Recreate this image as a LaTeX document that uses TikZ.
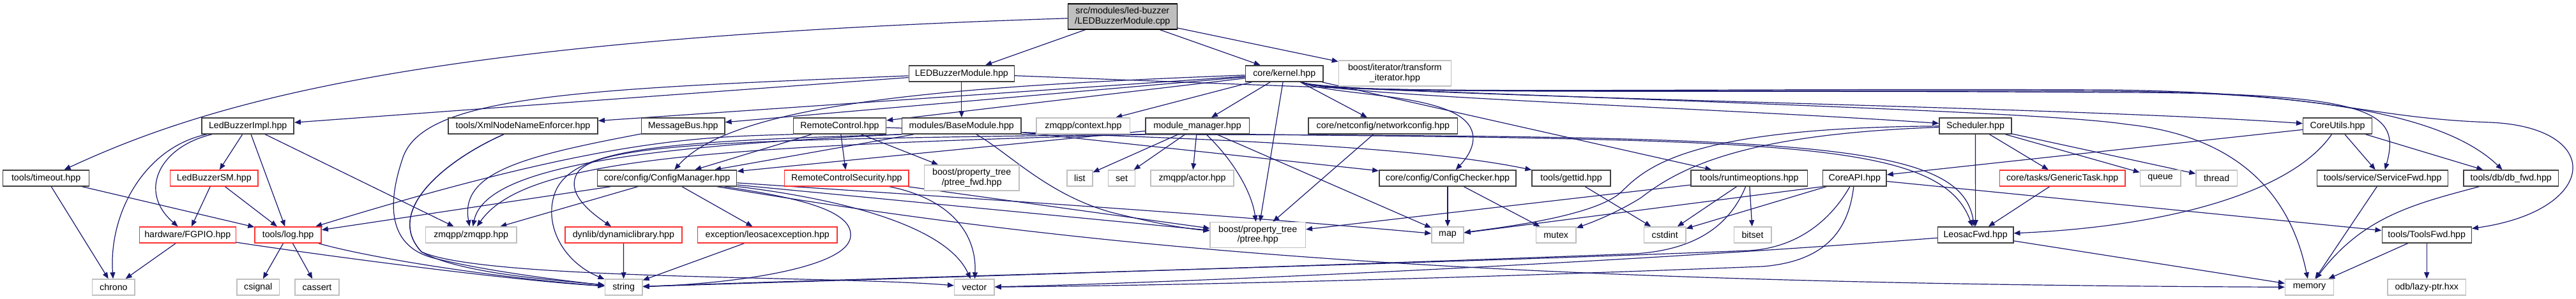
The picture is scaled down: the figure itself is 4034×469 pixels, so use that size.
\documentclass[tikz,border=0pt]{standalone}
\usepackage{fontspec}
\setmainfont{Liberation Sans}
\usetikzlibrary{arrows.meta}
\definecolor{edgec}{HTML}{191970}
\definecolor{bk}{HTML}{404040}
\definecolor{gr}{HTML}{BFBFBF}
\definecolor{rd}{HTML}{FF3030}
\newcommand\dxfont{\fontsize{7.1}{7.7}\selectfont}
\pgfdeclarelayer{back}
\pgfdeclarelayer{edges}
\pgfsetlayers{back,edges,main}
\tikzset{
  nd/.style={inner sep=0pt, minimum height=12.5pt, font=\dxfont, align=center, line width=0.75pt, fill=white},
  bx/.style={nd, draw=bk},
  gx/.style={nd, draw=gr},
  rx/.style={nd, draw=rd},
  root/.style={nd, draw=black, fill=gr},
  W/.style={minimum width=#1*0.5pt},
  H/.style={minimum height=#1*0.5pt},
  e/.style={draw=edgec, line width=0.6pt, -{Triangle[length=5pt,width=4pt]}},
}
\begin{document}
\begin{tikzpicture}[x=0.5pt,y=-0.5pt]
\begin{pgfonlayer}{back}
\fill[white] (0,0) rectangle (4034,469);
\end{pgfonlayer}
\useasboundingbox (0,0) rectangle (4034,469);
% row 0-1
\node[root,W=171,H=40] (cpp) at (1757.8,26) {src/modules/led-buzzer\\/LEDBuzzerModule.cpp};
\node[bx,W=165] (ledmod) at (1505.8,115.5) {LEDBuzzerModule.hpp};
\node[bx,W=121.5] (kernel) at (2011.2,115.5) {core/kernel.hpp};
\node[gx,W=176,H=40] (transit) at (2184.4,115) {boost/iterator/transform\\\_iterator.hpp};
% row 2
\node[bx,W=144] (impl) at (388.2,197.5) {LedBuzzerImpl.hpp};
\node[bx,W=234.4] (xmlnode) at (819,197.5) {tools/XmlNodeNameEnforcer.hpp};
\node[bx,W=130.3] (msgbus) at (1069.7,197.5) {MessageBus.hpp};
\node[bx,W=145] (remote) at (1315,197.5) {RemoteControl.hpp};
\node[bx,W=186.6] (basemod) at (1505.8,197.5) {modules/BaseModule.hpp};
\node[gx,W=146.4] (context) at (1696.4,197.5) {zmqpp/context.hpp};
\node[bx,W=162.5] (modmgr) at (1875,197.5) {module\_manager.hpp};
\node[bx,W=233.5] (netcfg) at (2165.9,197.5) {core/netconfig/networkconfig.hpp};
\node[bx,W=113] (sched) at (3093.5,197.5) {Scheduler.hpp};
\node[bx,W=107.7] (coreutils) at (3660.5,197.5) {CoreUtils.hpp};
% row 3
\node[bx,W=135.2] (timeout) at (72.1,279.5) {tools/timeout.hpp};
\node[rx,W=137.5] (ledsm) at (335.3,279.5) {LedBuzzerSM.hpp};
\node[bx,W=218.3] (cfgmgr) at (1044.5,279.5) {core/config/ConfigManager.hpp};
\node[rx,W=194.6] (rcsec) at (1325.9,279.5) {RemoteControlSecurity.hpp};
\node[gx,W=148.7,H=40] (ptreefwd) at (1521.7,279) {boost/property\_tree\\/ptree\_fwd.hpp};
\node[gx,W=39.7] (list) at (1690.9,279.5) {list};
\node[gx,W=42.4] (set) at (1756.5,279.5) {set};
\node[gx,W=130.3] (actor) at (1867,279.5) {zmqpp/actor.hpp};
\node[bx,W=214.3] (cfgchk) at (2267,279.5) {core/config/ConfigChecker.hpp};
\node[bx,W=122.8] (gettid) at (2460.5,279.5) {tools/gettid.hpp};
\node[bx,W=182.6] (rtopt) at (2739.1,279.5) {tools/runtimeoptions.hpp};
\node[bx,W=99.5] (coreapi) at (2904.3,279.5) {CoreAPI.hpp};
\node[rx,W=196.8] (gtask) at (3229.7,279.5) {core/tasks/GenericTask.hpp};
\node[gx,W=63.2] (queue) at (3383.1,279.5) {queue};
\node[gx,W=64.2] (thread) at (3471.1,279.5) {thread};
\node[bx,W=205] (svcfwd) at (3731.1,279.5) {tools/service/ServiceFwd.hpp};
\node[bx,W=148.4] (dbfwd) at (3932.2,279.5) {tools/db/db\_fwd.hpp};
% row 4
\node[rx,W=150.9] (fgpio) at (293.8,368.5) {hardware/FGPIO.hpp};
\node[rx,W=104] (log) at (451.1,368.5) {tools/log.hpp};
\node[gx,W=142.4] (zmqpp) at (737.7,368.5) {zmqpp/zmqpp.hpp};
\node[rx,W=183.1] (dynlib) at (976.4,368.5) {dynlib/dynamiclibrary.hpp};
\node[rx,W=218.8] (exc) at (1201.8,368.5) {exception/leosacexception.hpp};
\node[gx,W=149.1,H=40] (ptree) at (1969.7,368.5) {boost/property\_tree\\/ptree.hpp};
\node[gx,W=50] (map) at (2267,368.5) {map};
\node[gx,W=62.5] (mutex) at (2436.7,368.5) {mutex};
\node[gx,W=65.1] (cstdint) at (2607.2,368.5) {cstdint};
\node[gx,W=58.5] (bitset) at (2744.5,368.5) {bitset};
\node[bx,W=118.3] (leofwd) at (3093.6,368.5) {LeosacFwd.hpp};
\node[bx,W=140] (toolsfwd) at (3800.2,368.5) {tools/ToolsFwd.hpp};
% row 5
\node[gx,W=66.6] (chrono) at (177.9,450.5) {chrono};
\node[gx,W=66.5] (csignal) at (404.3,450.5) {csignal};
\node[gx,W=69] (cassert) at (496.5,450.5) {cassert};
\node[gx,W=58.5] (string) at (976.6,450.5) {string};
\node[gx,W=62.5] (vector) at (1525.9,450.5) {vector};
\node[gx,W=75.9] (memory) at (3616.5,450.5) {memory};
\node[gx,W=122.2] (odb) at (3800.2,450.5) {odb/lazy-ptr.hxx};

\begin{pgfonlayer}{edges}
% root file
\draw[e] (cpp) -- (ledmod);
\draw[e] (cpp) -- (kernel);
\draw[e] (cpp) -- (transit);
\draw[e] (cpp) .. controls (700,60) and (350,150) .. (timeout);
% LEDBuzzerModule.hpp
\draw[e] (ledmod) -- (impl);
\draw[e] (ledmod) -- (basemod);
\draw[e] (ledmod) .. controls (900,140) and (660,150) .. (630,250) .. controls (600,340) and (620,390) .. (680,405) .. controls (760,425) and (880,440) .. (string);
\draw[e] (ledmod) .. controls (2600,158) and (3200,175) .. (3330,195) .. controls (3520,215) and (3590,320) .. (memory);
% LedBuzzerImpl
\draw[e] (impl) -- (ledsm);
\draw[e] (impl) .. controls (250,230) and (215,300) .. (fgpio);
\draw[e] (impl) -- (log);
\draw[e] (impl) .. controls (230,230) and (170,330) .. (chrono);
\draw[e] (impl) -- (zmqpp);
% timeout, SM, FGPIO, log
\draw[e] (timeout) -- (chrono);
\draw[e] (timeout) -- (log);
\draw[e] (ledsm) -- (fgpio);
\draw[e] (ledsm) -- (log);
\draw[e] (fgpio) -- (chrono);
\draw[e] (fgpio) .. controls (500,400) and (800,440) .. (string);
\draw[e] (log) -- (csignal);
\draw[e] (log) -- (cassert);
\draw[e] (log) .. controls (600,410) and (820,440) .. (string);
% XmlNodeNameEnforcer, MessageBus
\draw[e] (xmlnode) .. controls (700,250) and (600,330) .. (660,395) .. controls (720,430) and (880,440) .. (string);
\draw[e] (xmlnode) .. controls (700,250) and (600,330) .. (660,395) .. controls (760,440) and (1300,432) .. (vector);
\draw[e] (msgbus) .. controls (820,245) and (720,270) .. (zmqpp);
% RemoteControl
\draw[e] (remote) -- (cfgmgr);
\draw[e] (remote) -- (rcsec);
\draw[e] (remote) -- (ptreefwd);
\draw[e] (remote.south west) .. controls (1100,215) and (950,215) .. (log);
\draw[e] (remote) .. controls (1800,215) and (2200,225) .. (gettid);
\draw[e] (rcsec) -- (ptree);
\draw[e] (rcsec) .. controls (1480,310) and (1530,360) .. (vector);
% BaseModule
\draw[e] (basemod) -- (cfgmgr);
\draw[e] (basemod.south west) .. controls (1000,230) and (760,262) .. (zmqpp);
\draw[e] (basemod.south west) .. controls (1050,222) and (900,230) .. (870,300) .. controls (850,350) and (880,410) .. (string);
\draw[e] (basemod) .. controls (1580,240) and (1640,305) .. (1740,333) .. controls (1800,348) and (1850,358) .. (ptree);
\draw[e] (basemod) -- (cfgchk);
\draw[e] (basemod.south east) .. controls (2800,212) and (3070,215) .. (leofwd);
% module_manager
\draw[e] (modmgr) -- (list);
\draw[e] (modmgr) -- (set);
\draw[e] (modmgr) -- (actor);
\draw[e] (modmgr) .. controls (1930,250) and (1960,300) .. (ptree);
\draw[e] (modmgr) -- (map);
\draw[e] (modmgr.south west) .. controls (1200,218) and (940,222) .. (905,270) .. controls (885,300) and (920,330) .. (dynlib);
\draw[e] (modmgr.south west) .. controls (1100,230) and (820,250) .. (zmqpp);
\draw[e] (modmgr) -- (cfgmgr);
\draw[e] (modmgr.south east) .. controls (2800,220) and (3040,222) .. (leofwd);
% kernel
\draw[e] (kernel) -- (xmlnode);
\draw[e] (kernel) -- (msgbus);
\draw[e] (kernel) -- (remote);
\draw[e] (kernel) .. controls (1500,135) and (1150,160) .. (cfgmgr);
\draw[e] (kernel) -- (context);
\draw[e] (kernel) -- (modmgr);
\draw[e] (kernel) -- (ptree);
\draw[e] (kernel) -- (netcfg);
\draw[e] (kernel) .. controls (2080,150) and (2250,145) .. (2295,190) .. controls (2320,215) and (2300,245) .. (cfgchk);
\draw[e] (kernel) .. controls (2080,150) and (2700,170) .. (sched);
\draw[e] (kernel) -- (rtopt);
\draw[e] (kernel) .. controls (2080,150) and (3200,165) .. (coreutils);
\draw[e] (kernel) .. controls (2080,150) and (2600,140) .. (3300,145) .. controls (3720,145) and (3760,175) .. (svcfwd);
\draw[e] (kernel) .. controls (2080,150) and (2600,140) .. (3300,143) .. controls (3700,145) and (3850,200) .. (dbfwd);
\draw[e] (kernel) .. controls (2080,150) and (2600,138) .. (3300,141) .. controls (3650,145) and (3700,185) .. (3900,192) .. controls (4080,200) and (4070,330) .. (toolsfwd);
\draw[e] (netcfg) -- (ptree);
% ConfigManager
\draw[e] (cfgmgr) -- (log);
\draw[e] (cfgmgr) -- (zmqpp);
\draw[e] (cfgmgr) -- (exc);
\draw[e] (cfgmgr) .. controls (1250,310) and (1335,330) .. (1332,370) .. controls (1330,420) and (1150,445) .. (string);
\draw[e] (cfgmgr) -- (ptree);
\draw[e] (cfgmgr) .. controls (1500,310) and (1900,335) .. (map);
\draw[e] (cfgmgr) .. controls (1300,310) and (1480,350) .. (vector);
\draw[e] (cfgmgr) .. controls (1700,390) and (2300,445) .. (memory);
\draw[e] (dynlib) -- (string);
\draw[e] (exc) -- (string);
% ConfigChecker, gettid, runtimeoptions
\draw[e] (cfgchk) -- (map);
\draw[e] (cfgchk) -- (mutex);
\draw[e] (gettid) -- (cstdint);
\draw[e] (rtopt) -- (cstdint);
\draw[e] (rtopt) -- (bitset);
\draw[e] (rtopt) -- (ptree);
\draw[e] (rtopt) .. controls (2710,350) and (2660,392) .. (2560,398) .. controls (2000,420) and (1300,440) .. (string);
% CoreAPI
\draw[e] (coreapi) -- (cstdint);
\draw[e] (coreapi.south west) -- (map);
\draw[e] (coreapi) -- (toolsfwd);
\draw[e] (coreapi) .. controls (2870,340) and (2820,388) .. (2740,393) .. controls (2200,415) and (1300,438) .. (string);
\draw[e] (coreapi) .. controls (2895,360) and (2860,410) .. (2760,418) .. controls (2200,440) and (1800,448) .. (vector);
% Scheduler, GenericTask, LeosacFwd
\draw[e] (sched) -- (leofwd);
\draw[e] (sched) -- (gtask);
\draw[e] (sched) -- (queue);
\draw[e] (sched) -- (thread);
\draw[e] (sched) .. controls (2650,200) and (2580,260) .. (2540,300) .. controls (2500,340) and (2340,358) .. (map);
\draw[e] (sched) .. controls (2750,210) and (2640,255) .. (2570,310) .. controls (2530,335) and (2490,350) .. (mutex);
\draw[e] (gtask) -- (leofwd);
\draw[e] (leofwd) -- (memory);
\draw[e] (leofwd) .. controls (2500,415) and (1800,445) .. (vector);
% CoreUtils and tools
\draw[e] (coreutils) -- (coreapi);
\draw[e] (coreutils) -- (svcfwd);
\draw[e] (coreutils) -- (dbfwd);
\draw[e] (coreutils) .. controls (3590,300) and (3400,355) .. (leofwd);
\draw[e] (svcfwd) -- (memory);
\draw[e] (dbfwd) .. controls (3780,320) and (3700,340) .. (memory);
\draw[e] (toolsfwd) -- (memory);
\draw[e] (toolsfwd) -- (odb);
\end{pgfonlayer}
\end{tikzpicture}
\end{document}
